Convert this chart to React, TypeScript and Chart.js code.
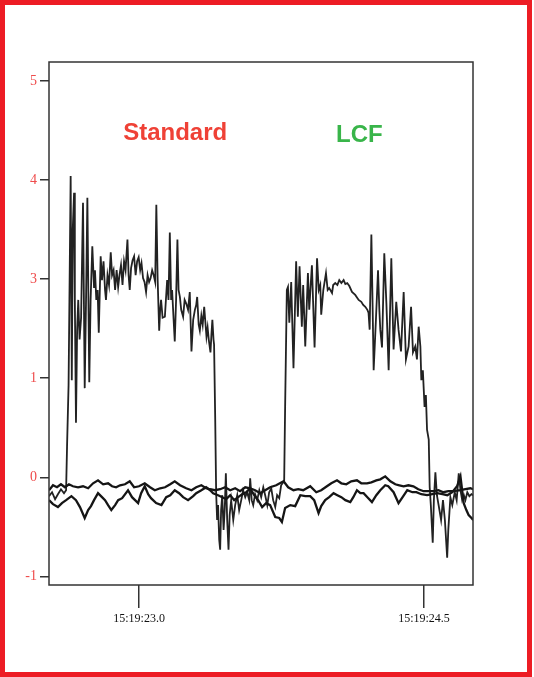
import React, { useEffect, useRef } from "react";
import { Chart, registerables } from "chart.js";

Chart.register(...registerables);

// Time in seconds after 15:19:00, values in axis units
const signalTimes = [
  22.526, 22.542, 22.558, 22.573, 22.589, 22.605, 22.616, 22.621, 22.629, 22.64, 22.646, 22.651, 22.658, 22.662,
  22.668, 22.674, 22.68, 22.687, 22.695, 22.705, 22.714, 22.721, 22.728, 22.738, 22.745, 22.754, 22.763, 22.768,
  22.775, 22.782, 22.788, 22.798, 22.805, 22.813, 22.821, 22.826, 22.834, 22.842, 22.851, 22.858, 22.866, 22.874,
  22.882, 22.89, 22.897, 22.905, 22.913, 22.921, 22.929, 22.939, 22.945, 22.951, 22.958, 22.966, 22.974, 22.982,
  22.99, 22.998, 23.006, 23.013, 23.021, 23.029, 23.037, 23.045, 23.053, 23.061, 23.069, 23.077, 23.085, 23.091,
  23.098, 23.106, 23.111, 23.116, 23.124, 23.136, 23.143, 23.148, 23.155, 23.162, 23.169, 23.174, 23.182, 23.188,
  23.195, 23.202, 23.208, 23.215, 23.222, 23.232, 23.24, 23.249, 23.258, 23.267, 23.276, 23.285, 23.294, 23.301,
  23.306, 23.314, 23.32, 23.328, 23.335, 23.343, 23.349, 23.355, 23.361, 23.367, 23.376, 23.381, 23.386, 23.392,
  23.395, 23.401, 23.406, 23.411, 23.416, 23.422, 23.427, 23.432, 23.438, 23.445, 23.451, 23.457, 23.464, 23.471,
  23.477, 23.485, 23.496, 23.506, 23.517, 23.527, 23.538, 23.548, 23.559, 23.569, 23.58, 23.585, 23.593, 23.601,
  23.611, 23.622, 23.633, 23.643, 23.654, 23.664, 23.675, 23.685, 23.696, 23.706, 23.717, 23.727, 23.738, 23.748,
  23.759, 23.764, 23.769, 23.778, 23.784, 23.791, 23.801, 23.813, 23.827, 23.836, 23.845, 23.857, 23.864, 23.875,
  23.889, 23.896, 23.902, 23.91, 23.924, 23.937, 23.946, 23.954, 23.959, 23.97, 23.984, 23.993, 24.001, 24.016,
  24.022, 24.033, 24.044, 24.054, 24.065, 24.077, 24.086, 24.096, 24.107, 24.121, 24.138, 24.156, 24.17, 24.18,
  24.191, 24.202, 24.208, 24.214, 24.223, 24.229, 24.235, 24.247, 24.258, 24.265, 24.27, 24.279, 24.291, 24.302,
  24.314, 24.328, 24.34, 24.354, 24.366, 24.379, 24.393, 24.405, 24.419, 24.432, 24.442, 24.454, 24.463, 24.472,
  24.481, 24.486, 24.494, 24.503, 24.51, 24.516, 24.525, 24.53, 24.536, 24.546, 24.552, 24.56, 24.568, 24.577,
  24.59, 24.6, 24.61, 24.622, 24.628, 24.639, 24.649, 24.662, 24.672, 24.683, 24.692, 24.701, 24.71, 24.718,
  24.728, 24.739, 24.75, 24.759,
];
const signalValues = [
  -0.19, -0.15, -0.22, -0.17, -0.12, -0.16, -0.13, 0.31, 0.93, 3.04, 0.98, 2.5, 2.87, 1.79,
  0.55, 1.48, 1.79, 1.39, 1.61, 2.77, 0.9, 1.79, 2.82, 0.96, 1.79, 2.33, 1.92, 2.09,
  1.79, 1.89, 1.46, 2.23, 1.99, 2.18, 1.89, 1.79, 2.04, 1.94, 2.27, 2.04, 2.09, 1.89,
  2.09, 1.92, 2.04, 2.14, 1.94, 2.18, 2.09, 2.4, 2.04, 1.89, 2.11, 2.19, 2.23, 2.04,
  2.18, 2.22, 2.09, 2.16, 2.01, 1.97, 1.87, 2.04, 1.97, 2.01, 2.09, 2.04, 1.97, 2.75,
  1.99, 1.48, 1.69, 1.79, 1.61, 1.62, 1.84, 1.99, 1.79, 2.47, 1.79, 1.89, 1.59, 1.37,
  1.79, 2.4, 1.89, 1.82, 1.69, 1.62, 1.79, 1.75, 1.69, 1.87, 1.27, 1.59, 1.69, 1.74,
  1.82, 1.54, 1.48, 1.63, 1.54, 1.72, 1.57, 1.42, 1.51, 1.39, 1.26, 1.44, 1.59, 1.39,
  1.34, 0.58, -0.16, -0.43, -0.28, -0.63, -0.73, -0.33, -0.18, -0.53, -0.33, 0.04, -0.43, -0.73,
  -0.38, -0.23, -0.43, -0.28, -0.18, -0.33, -0.23, -0.13, -0.2, -0.15, -0.23, -0.01, -0.23, -0.28,
  -0.17, -0.23, -0.13, -0.2, -0.1, -0.18, -0.28, -0.15, -0.11, -0.23, -0.3, -0.18, -0.21, -0.08,
  -0.05, -0.03, 0.71, 1.89, 1.92, 1.56, 1.97, 1.1, 2.18, 1.62, 2.13, 1.52, 1.94, 1.32,
  2.06, 1.69, 1.89, 2.14, 1.31, 2.21, 1.89, 1.94, 1.64, 1.89, 2.06, 1.89, 1.91, 1.86,
  1.94, 1.96, 1.94, 1.99, 1.96, 1.99, 1.95, 1.96, 1.93, 1.87, 1.84, 1.79, 1.77, 1.74,
  1.72, 1.69, 1.66, 1.49, 2.45, 1.79, 1.08, 1.59, 2.09, 1.69, 1.49, 1.31, 2.26, 1.76,
  1.08, 2.21, 1.29, 1.77, 1.49, 1.27, 1.87, 1.19, 1.32, 1.72, 1.26, 1.32, 1.19, 1.52,
  1.32, 0.98, 1.08, 0.71, 0.83, 0.48, 0.38, -0.1, -0.28, -0.66, -0.23, 0.05, -0.18, -0.28,
  -0.43, -0.23, -0.43, -0.81, -0.53, -0.2, -0.28, -0.15, -0.23, 0.04, -0.13, -0.23, -0.18, -0.23,
  -0.15, -0.19, -0.17, -0.18,
];

const baseATimes = [
  22.526, 22.547, 22.568, 22.589, 22.61, 22.631, 22.652, 22.679, 22.705, 22.732, 22.758, 22.784, 22.811, 22.837,
  22.858, 22.879, 22.9, 22.926, 22.951, 22.974, 23.0, 23.03, 23.058, 23.083, 23.111, 23.137, 23.164, 23.188,
  23.216, 23.248, 23.276, 23.301, 23.328, 23.353, 23.374, 23.399, 23.427, 23.453, 23.48, 23.506, 23.532, 23.559,
  23.585, 23.611, 23.638, 23.664, 23.69, 23.722, 23.761, 23.785, 23.813, 23.838, 23.864, 23.901, 23.933, 23.959,
  23.989, 24.012, 24.042, 24.065, 24.091, 24.117, 24.147, 24.17, 24.2, 24.223, 24.249, 24.27, 24.296, 24.323,
  24.349, 24.37, 24.393, 24.418, 24.444, 24.47, 24.498, 24.523, 24.551, 24.576, 24.602, 24.628, 24.655, 24.692,
  24.718, 24.744, 24.759,
];
const baseAValues = [
  -0.13, -0.08, -0.1, -0.07, -0.1, -0.07, -0.09, -0.1, -0.09, -0.11, -0.06, -0.03, -0.07, -0.06,
  -0.09, -0.1, -0.08, -0.07, -0.04, -0.1, -0.09, -0.06, -0.1, -0.13, -0.11, -0.1, -0.07, -0.04,
  -0.08, -0.11, -0.13, -0.1, -0.08, -0.11, -0.12, -0.13, -0.12, -0.1, -0.13, -0.11, -0.14, -0.1,
  -0.11, -0.13, -0.16, -0.13, -0.1, -0.08, -0.04, -0.1, -0.13, -0.12, -0.13, -0.09, -0.15, -0.13,
  -0.09, -0.06, -0.03, -0.06, -0.07, -0.04, -0.03, -0.06, -0.06, -0.05, -0.03, -0.02, 0.01, -0.04,
  -0.07, -0.08, -0.09, -0.08, -0.09, -0.12, -0.14, -0.14, -0.14, -0.13, -0.15, -0.14, -0.14, -0.13,
  -0.12, -0.11, -0.12,
];

const baseBTimes = [
  22.526, 22.547, 22.573, 22.594, 22.616, 22.644, 22.668, 22.689, 22.714, 22.732, 22.747, 22.763, 22.784, 22.805,
  22.821, 22.837, 22.854, 22.874, 22.89, 22.911, 22.942, 22.963, 22.979, 22.995, 23.011, 23.03, 23.048, 23.063,
  23.09, 23.118, 23.143, 23.164, 23.188, 23.211, 23.232, 23.258, 23.285, 23.301, 23.328, 23.353, 23.374, 23.39,
  23.416, 23.438, 23.459, 23.48, 23.501, 23.522, 23.543, 23.564, 23.585, 23.606, 23.627, 23.648, 23.669, 23.69,
  23.717, 23.738, 23.752, 23.769, 23.796, 23.822, 23.849, 23.875, 23.901, 23.922, 23.945, 23.959, 23.98, 24.001,
  24.024, 24.044, 24.065, 24.086, 24.112, 24.128, 24.147, 24.165, 24.182, 24.202, 24.226, 24.249, 24.27, 24.296,
  24.312, 24.34, 24.366, 24.391, 24.412, 24.439, 24.46, 24.486, 24.516, 24.544, 24.57, 24.597, 24.623, 24.649,
  24.674, 24.692, 24.709, 24.723, 24.735, 24.75, 24.759,
];
const baseBValues = [
  -0.23, -0.27, -0.3, -0.26, -0.23, -0.19, -0.23, -0.3, -0.41, -0.33, -0.29, -0.23, -0.16, -0.2,
  -0.23, -0.28, -0.33, -0.28, -0.23, -0.21, -0.13, -0.2, -0.23, -0.26, -0.16, -0.09, -0.17, -0.21,
  -0.26, -0.28, -0.2, -0.18, -0.13, -0.16, -0.2, -0.23, -0.19, -0.16, -0.13, -0.1, -0.13, -0.16,
  -0.18, -0.2, -0.22, -0.18, -0.23, -0.2, -0.17, -0.15, -0.11, -0.18, -0.23, -0.3, -0.26, -0.28,
  -0.4, -0.41, -0.45, -0.31, -0.28, -0.29, -0.18, -0.19, -0.19, -0.23, -0.36, -0.29, -0.23, -0.2,
  -0.16, -0.18, -0.2, -0.23, -0.25, -0.2, -0.13, -0.16, -0.16, -0.2, -0.25, -0.18, -0.13, -0.08,
  -0.09, -0.15, -0.26, -0.19, -0.13, -0.15, -0.15, -0.17, -0.18, -0.17, -0.16, -0.17, -0.18, -0.15,
  -0.09, 0.01, -0.26, -0.33, -0.38, -0.41, -0.43,
];

const xTickValues = [23.0, 24.5];
const xTickLabels = ["15:19:23.0", "15:19:24.5"];
const yTickValues = [-1, 0, 1, 2, 3, 4];
const yTickLabels = ["-1", "0", "1", "3", "4", "5"];

const annotations = [
  { text: "Standard", t: 23.19, v: 3.47, color: "#ef4136" },
  { text: "LCF", t: 24.16, v: 3.45, color: "#39b54a" },
];

const toPoints = (ts: number[], vs: number[]) => ts.map((t, i) => ({ x: t, y: vs[i] }));

export default function App() {
  const ref = useRef<HTMLCanvasElement | null>(null);

  useEffect(() => {
    if (!ref.current) return;
    const framePlugin = {
      id: "frame",
      afterDatasetsDraw(chart: any) {
        const { ctx, chartArea, scales } = chart;
        ctx.save();
        ctx.font = "bold 24px 'Liberation Sans', Arial, sans-serif";
        ctx.textAlign = "center";
        ctx.textBaseline = "middle";
        annotations.forEach((a) => {
          ctx.fillStyle = a.color;
          ctx.fillText(a.text, scales.x.getPixelForValue(a.t), scales.y.getPixelForValue(a.v));
        });
        ctx.strokeStyle = "#333";
        ctx.lineWidth = 1.5;
        ctx.strokeRect(chartArea.left, chartArea.top, chartArea.right - chartArea.left, chartArea.bottom - chartArea.top);
        ctx.strokeStyle = "#ed1c24";
        ctx.lineWidth = 5;
        ctx.strokeRect(2.5, 2.5, chart.width - 7, chart.height - 5);
        ctx.restore();
      },
    };
    const lineStyle = {
      borderColor: "#151515",
      pointRadius: 0,
      tension: 0,
      fill: false,
    };
    const chart = new Chart(ref.current, {
      type: "line",
      data: {
        datasets: [
          { ...lineStyle, data: toPoints(baseATimes, baseAValues), borderWidth: 2.3 },
          { ...lineStyle, data: toPoints(baseBTimes, baseBValues), borderWidth: 2.3 },
          { ...lineStyle, data: toPoints(signalTimes, signalValues), borderWidth: 1.8, borderColor: "#222" },
        ],
      },
      options: {
        animation: false,
        responsive: false,
        layout: { padding: { left: 0, right: 61, top: 62, bottom: 0 } },
        plugins: { legend: { display: false }, tooltip: { enabled: false } },
        scales: {
          x: {
            type: "linear",
            min: 22.526,
            max: 24.758,
            border: { display: false },
            grid: { drawOnChartArea: false, drawTicks: true, tickLength: 23, color: "#333", lineWidth: 1.5 },
            afterBuildTicks: (scale: any) => {
              scale.ticks = xTickValues.map((v) => ({ value: v }));
            },
            afterFit: (scale: any) => {
              scale.height = 92;
            },
            ticks: {
              padding: 4,
              maxRotation: 0,
              autoSkip: false,
              color: "#111",
              font: { family: "'Liberation Serif', 'Times New Roman', serif", size: 12 },
              callback: (v: any) => {
                const i = xTickValues.indexOf(Number(v));
                return i >= 0 ? xTickLabels[i] : "";
              },
            },
          },
          y: {
            type: "linear",
            min: -1.086,
            max: 4.19,
            border: { display: false },
            grid: { drawOnChartArea: false, drawTicks: true, tickLength: 9, color: "#333", lineWidth: 1.5 },
            afterBuildTicks: (scale: any) => {
              scale.ticks = yTickValues.map((v) => ({ value: v }));
            },
            afterFit: (scale: any) => {
              scale.width = 49;
            },
            ticks: {
              padding: 3,
              autoSkip: false,
              color: "#ef4b4b",
              font: { family: "'Liberation Serif', 'Times New Roman', serif", size: 14 },
              callback: (v: any) => {
                const i = yTickValues.indexOf(Number(v));
                return i >= 0 ? yTickLabels[i] : "";
              },
            },
          },
        },
      },
      plugins: [framePlugin],
    } as any);
    return () => chart.destroy();
  }, []);

  return (
    <div style={{ position: "absolute", left: 0, top: 0, width: 534, height: 677, background: "#fff" }}>
      <canvas ref={ref} width={534} height={677} style={{ display: "block" }} />
    </div>
  );
}
